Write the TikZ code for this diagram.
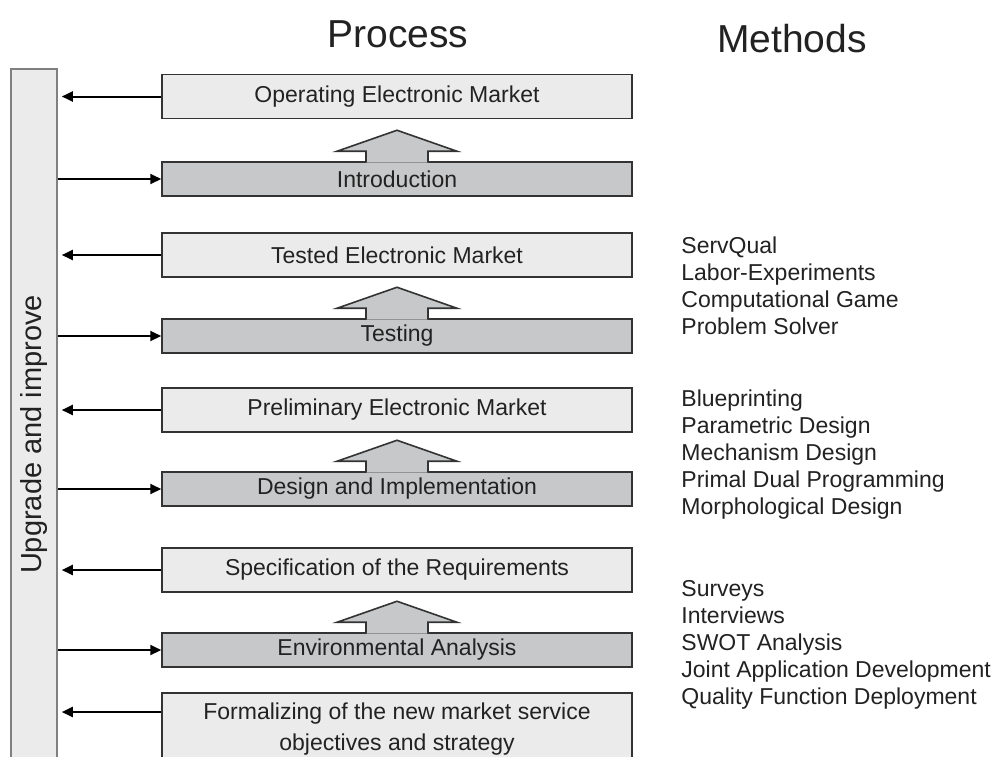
\documentclass[tikz,border=0pt]{standalone}
\usepackage{fontspec}
\setmainfont{Liberation Sans}
\usetikzlibrary{arrows.meta,calc}
\definecolor{lite}{HTML}{EBEBEB}
\definecolor{dark}{HTML}{C7C8C9}
\definecolor{edge}{HTML}{333333}
\definecolor{ink}{HTML}{222222}
% up arrow sitting on a dark box
\newcommand\liftarrow[1]{%
\draw[edge,line width=0.8pt,fill=dark] ([xshift=-15.5pt,yshift=-0.7pt]#1.north) -- ++(0pt,5.7pt) -- ++(-14.5pt,0pt) -- ([yshift=15.5pt]#1.north) -- ([xshift=30pt,yshift=5pt]#1.north) -- ++(-14.5pt,0pt) -- ++(0pt,-5.7pt);}

\begin{document}
\begin{tikzpicture}[x=0.5pt,y=-0.5pt,
  every node/.style={text=ink,font=\fontsize{11.5}{13.5}\selectfont},
  litebox/.style={draw=edge,line width=0.75pt,fill=lite,minimum width=235pt,minimum height=22pt,inner sep=0pt},
  darkbox/.style={litebox,fill=dark,minimum height=17pt},
  bar/.style={draw=gray,line width=0.8pt,fill=lite,minimum width=365.5pt,minimum height=23pt,inner sep=0pt,rotate=90,font=\fontsize{14.5}{16}\selectfont},
  back/.style={line width=1pt,-{Triangle[length=5.5pt,width=5pt]},shorten >=2pt},
  feed/.style={line width=1pt,-{Triangle[length=5.5pt,width=5pt]}},
  title/.style={anchor=base,font=\fontsize{19.5}{22}\selectfont},
  method/.style={anchor=base west,inner sep=0pt}]
\clip (0,0) rectangle (1000,756);
\fill[white] (0,0) rectangle (1000,756);

\node[title] (process) at (398,47) {Process};
\node[title] (methods) at (792,52) {Methods};

% rotated: bar.south is its right side
\node[bar] (bar) at (34,434.5) {Upgrade and improve};

\node[litebox] (oper) at (397,96.5) {Operating Electronic Market};
\node[darkbox] (intro) at (397,179) {Introduction};
\node[litebox] (tested) at (397,255) {Tested Electronic Market};
\node[darkbox] (testing) at (397,336) {Testing};
\node[litebox] (prelim) at (397,410) {Preliminary Electronic Market};
\node[darkbox] (design) at (397,489) {Design and Implementation};
\node[litebox] (spec) at (397,570) {Specification of the Requirements};
\node[darkbox] (env) at (397,650) {Environmental Analysis};
\node[litebox,anchor=north,align=center,inner ysep=5.1pt,font=\fontsize{11.5}{15.5}\selectfont] (form) at (397,692) {Formalizing of the new market service\\objectives and strategy};
\coordinate (formin) at ([yshift=-10pt]form.north west);

\liftarrow{intro}
\liftarrow{testing}
\liftarrow{design}
\liftarrow{env}

\draw[back] (oper.west) -- (oper.west -| bar.south);
\draw[feed] (intro.west -| bar.south) -- (intro.west);
\draw[back] (tested.west) -- (tested.west -| bar.south);
\draw[feed] (testing.west -| bar.south) -- (testing.west);
\draw[back] (prelim.west) -- (prelim.west -| bar.south);
\draw[feed] (design.west -| bar.south) -- (design.west);
\draw[back] (spec.west) -- (spec.west -| bar.south);
\draw[feed] (env.west -| bar.south) -- (env.west);
\draw[back] (formin) -- (formin -| bar.south);

\node[method] (servqual) at (681,253) {ServQual};
\node[method] (labor) at (681,280) {Labor-Experiments};
\node[method] (game) at (681,307) {Computational Game};
\node[method] (solver) at (681,334) {Problem Solver};
\node[method] (blueprint) at (681,406) {Blueprinting};
\node[method] (param) at (681,433) {Parametric Design};
\node[method] (mechanism) at (681,460) {Mechanism Design};
\node[method] (primal) at (681,487) {Primal Dual Programming};
\node[method] (morph) at (681,514) {Morphological Design};
\node[method] (surveys) at (681,596) {Surveys};
\node[method] (interviews) at (681,623) {Interviews};
\node[method] (swot) at (681,650) {SWOT Analysis};
\node[method] (jad) at (681,677) {Joint Application Development};
\node[method] (qfd) at (681,704) {Quality Function Deployment};
\end{tikzpicture}
\end{document}
